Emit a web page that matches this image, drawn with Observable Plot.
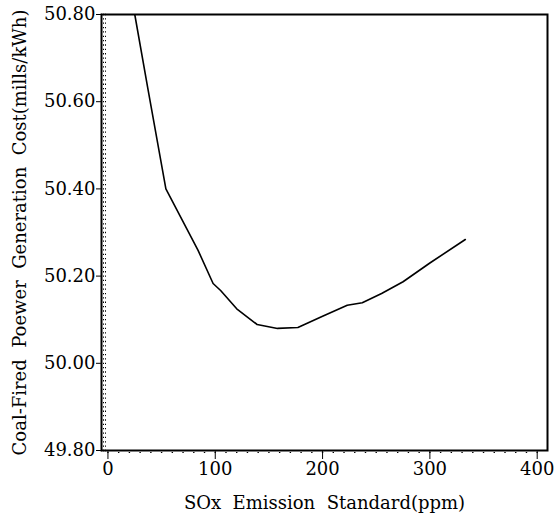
<!DOCTYPE html>
<html>
<head>
<meta charset="utf-8">
<script src="https://cdn.jsdelivr.net/npm/d3@7"></script>
<script src="https://cdn.jsdelivr.net/npm/@observablehq/plot@0.6"></script>
<style>
  html, body { margin: 0; padding: 0; background: #fff; }
  svg text { font-family: "DejaVu Serif", serif; }
</style>
</head>
<body>
<div id="chart"></div>
<script>
// SOx emission standard (ppm)
const soxStandard = [25, 37, 54, 84, 98, 105, 120, 139, 158, 177, 200, 223, 237, 255, 275, 300, 333];
// Coal-fired power generation cost (mills/kWh)
const generationCost = [50.80, 50.633, 50.40, 50.259, 50.183, 50.167, 50.125, 50.089, 50.080, 50.082, 50.108, 50.133, 50.139, 50.16, 50.187, 50.23, 50.284];

const xTicks = [0, 100, 200, 300, 400];
const yTicks = [49.80, 50.00, 50.20, 50.40, 50.60, 50.80];
const xMinorTicks = d3.range(0, 410, 10);
const yMinorTicks = d3.range(0, 101).map(i => 49.80 + i * 0.01);

const data = soxStandard.map((x, i) => ({x, y: generationCost[i]}));

const chart = Plot.plot({
  width: 556,
  height: 523,
  marginLeft: 101,
  marginRight: 9,
  marginTop: 14,
  marginBottom: 73,
  style: {fontFamily: "DejaVu Serif", fontSize: "18px", color: "#000", background: "#fff"},
  x: {domain: [-6, 409.6]},
  y: {domain: [49.80, 50.80]},
  marks: [
    Plot.axisY({ticks: yMinorTicks, tickSize: -6, text: null, label: null, strokeWidth: 1.3, strokeDasharray: "1,1"}),
    Plot.axisX({ticks: xMinorTicks, tickSize: 3, text: null, label: null, strokeWidth: 1.4, strokeDasharray: "1,1"}),
    Plot.axisY({ticks: yTicks, tickSize: 5, tickPadding: 1, tickFormat: d3.format(".2f"), fontSize: 18,
      label: "Coal-Fired  Poewer  Generation  Cost(mills/kWh)", labelAnchor: "center", labelArrow: false, labelOffset: 88}),
    Plot.axisX({ticks: xTicks, tickSize: 9, tickPadding: 3, tickFormat: d3.format("d"), fontSize: 18,
      label: "SOx  Emission  Standard(ppm)", labelAnchor: "center", labelArrow: false, labelOffset: 58}),
    Plot.frame({stroke: "#000", strokeWidth: 2}),
    Plot.line(data, {x: "x", y: "y", stroke: "#000", strokeWidth: 1.6, curve: "linear", clip: true})
  ]
});
document.getElementById("chart").append(chart);
</script>
</body>
</html>
